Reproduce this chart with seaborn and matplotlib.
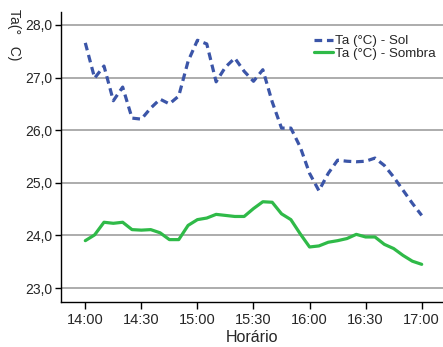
import matplotlib
matplotlib.use("Agg")
import matplotlib.pyplot as plt
import seaborn as sns
import numpy as np
import pandas as pd

# Sampling times, minutes after 14:00 (every 5 min until 17:00)
minutos = list(range(0, 181, 5))

# Air temperature in the sun (°C)
ta_sol = [27.66, 26.99, 27.22, 26.56, 26.82, 26.23, 26.21, 26.42, 26.59, 26.50,
          26.65, 27.31, 27.71, 27.64, 26.92, 27.20, 27.37, 27.12, 26.93, 27.15,
          26.54, 26.04, 26.04, 25.68, 25.18, 24.85, 25.18, 25.43, 25.41, 25.40,
          25.41, 25.47, 25.33, 25.11, 24.86, 24.61, 24.38]

# Air temperature in the shade (°C)
ta_sombra = [23.90, 24.01, 24.25, 24.23, 24.25, 24.11, 24.10, 24.11, 24.05, 23.92,
             23.92, 24.19, 24.30, 24.33, 24.40, 24.38, 24.36, 24.36, 24.51, 24.64,
             24.63, 24.41, 24.30, 24.03, 23.78, 23.80, 23.87, 23.90, 23.94, 24.02,
             23.97, 23.97, 23.83, 23.75, 23.62, 23.51, 23.45]

x_ticks = [0, 30, 60, 90, 120, 150, 180]
x_labels = ["14:00", "14:30", "15:00", "15:30", "16:00", "16:30", "17:00"]
y_ticks = [23, 24, 25, 26, 27, 28]
y_labels = ["23,0", "24,0", "25,0", "26,0", "27,0", "28,0"]

df = pd.DataFrame({
    "min": minutos * 2,
    "Ta": ta_sol + ta_sombra,
    "serie": ["Ta (°C) - Sol"] * len(minutos) + ["Ta (°C) - Sombra"] * len(minutos),
})

sns.set_style("white")
plt.rcParams["font.family"] = ["Liberation Sans", "DejaVu Sans"]

fig = plt.figure(figsize=(4.43, 3.47), dpi=100)
ax = fig.add_axes([61 / 443, 1 - 302 / 347, 1 - 61 / 443, (302 - 12) / 347])

for y in y_ticks:
    ax.axhline(y, color="#969696", lw=1.1, zorder=0)

sns.lineplot(data=df, x="min", y="Ta", hue="serie",
             palette={"Ta (°C) - Sol": "#3b55a8", "Ta (°C) - Sombra": "#2fba48"},
             style="serie",
             dashes={"Ta (°C) - Sol": (2.4, 1.5), "Ta (°C) - Sombra": ""},
             linewidth=2.3, ax=ax, legend=True)

ax.set_xlim(-13.0, 191.4)
ax.set_ylim(22.734, 28.247)
ax.set_xticks(x_ticks)
ax.set_xticklabels(x_labels, fontsize=10.5)
ax.set_yticks(y_ticks)
ax.set_yticklabels(y_labels, fontsize=10)
ax.tick_params(axis="x", direction="out", length=5, width=1, color="black", pad=3)
ax.tick_params(axis="y", direction="out", length=4, width=1, color="black", pad=2)
ax.tick_params(bottom=True, left=True)

for s in ["top", "right"]:
    ax.spines[s].set_visible(False)
for s in ["left", "bottom"]:
    ax.spines[s].set_color("black")
    ax.spines[s].set_linewidth(1.0)

ax.set_xlabel("Horário", fontsize=11.5, labelpad=2)
ax.set_ylabel("")
fig.text(14 / 443, 1 - 9 / 347, "Ta(°   C)", rotation=270, ha="center", va="top",
         fontsize=10)

leg = ax.legend(loc="upper left", bbox_to_anchor=(314 / 443, 1 - 35 / 347),
                bbox_transform=fig.transFigure, frameon=False,
                fontsize=9.6, handlelength=1.4, handletextpad=0.2,
                labelspacing=0.0, borderaxespad=0, borderpad=0)

fig.savefig("out.png", dpi=100)
